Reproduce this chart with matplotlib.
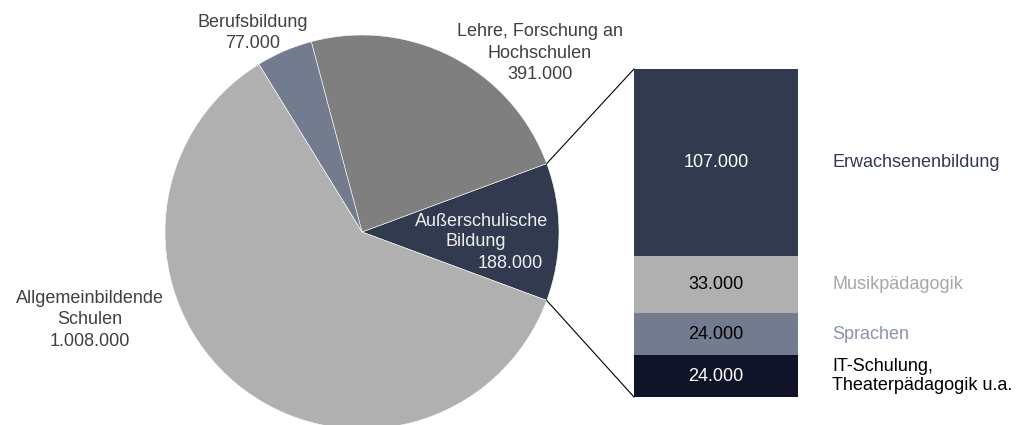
import numpy as np
import matplotlib
matplotlib.use("Agg")
import matplotlib.pyplot as plt
from matplotlib.patches import ConnectionPatch

plt.rcParams['font.family'] = ['Liberation Sans', 'DejaVu Sans']

# Daten
pie_labels = ['Außerschulische\nBildung', 'Lehre, Forschung an\nHochschulen', 'Berufsbildung', 'Allgemeinbildende\nSchulen']
pie_values = [188000, 391000, 77000, 1008000]
pie_colors = ['#323a50', '#7f7f7f', '#737b8f', '#b0b0b0']

bar_labels = ['IT-Schulung,\nTheaterpädagogik u.a.', 'Sprachen', 'Musikpädagogik', 'Erwachsenenbildung']
bar_values = [24000, 24000, 33000, 107000]
bar_colors = ['#0f1429', '#737b8f', '#b0b0b0', '#323a50']
bar_num_colors = ['white', 'black', 'black', 'white']
bar_lab_colors = ['black', '#8a93a8', '#a6a6a6', '#323a50']


def fmt(v):
    return f'{v:,}'.replace(',', '.')


W, H = 1020, 425
fig = plt.figure(figsize=(W / 100, H / 100), dpi=100)
ax = fig.add_axes([0, 0, 1, 1])

cx, cy, r = 362, H - 232, 197
start = -pie_values[0] / sum(pie_values) * 360 / 2
wedges, _ = ax.pie(pie_values, colors=pie_colors, startangle=start, center=(cx, cy),
                   radius=r, counterclock=True,
                   wedgeprops=dict(edgecolor='white', linewidth=0.4))
ax.set_xlim(0, W)
ax.set_ylim(0, H)
ax.set_aspect('equal')
ax.axis('off')

fs = 13
ls = 1.35
gray_txt = '#404040'
# Tortenbeschriftungen
ax.text(253, H - 33, 'Berufsbildung\n' + fmt(pie_values[2]), ha='center', va='center',
        fontsize=fs, color=gray_txt, linespacing=ls)
ax.text(540, H - 53, 'Lehre, Forschung an\nHochschulen\n' + fmt(pie_values[1]), ha='center',
        va='center', fontsize=fs, color=gray_txt, linespacing=ls)
ax.text(90, H - 320, 'Allgemeinbildende\nSchulen\n' + fmt(pie_values[3]), ha='center',
        va='center', fontsize=fs, color=gray_txt, linespacing=ls)
ax.text(482, H - 222, 'Außerschulische', ha='center', va='center', fontsize=fs, color='#eeeeee')
ax.text(476, H - 242, 'Bildung', ha='center', va='center', fontsize=fs, color='#eeeeee')
ax.text(510, H - 263, fmt(pie_values[0]), ha='center', va='center', fontsize=fs, color='#eeeeee')

# Balken
bx0, bx1, by0, by1 = 634, 798, 69, 397
bax = fig.add_axes([bx0 / W, (H - by1) / H, (bx1 - bx0) / W, (by1 - by0) / H])
bottoms = np.concatenate([[0], np.cumsum(bar_values)[:-1]])
bax.bar(0, bar_values, bottom=bottoms, width=1, color=bar_colors)
bax.set_xlim(-0.5, 0.5)
bax.set_ylim(0, sum(bar_values))
bax.axis('off')

for v, b, c, lab, lc in zip(bar_values, bottoms, bar_num_colors, bar_labels, bar_lab_colors):
    bax.text(0, b + v / 2, fmt(v), ha='center', va='center', fontsize=fs, color=c)
    bax.text(0.71, b + v / 2, lab, ha='left', va='center', fontsize=fs, color=lc,
             linespacing=1.2, clip_on=False)

# Verbindungslinien
w0 = wedges[0]
for ang, yb in [(w0.theta2, sum(bar_values)), (w0.theta1, 0)]:
    px = cx + r * np.cos(np.radians(ang))
    py = cy + r * np.sin(np.radians(ang))
    con = ConnectionPatch(xyA=(px, py), coordsA=ax.transData, xyB=(-0.5, yb),
                          coordsB=bax.transData, color='black', linewidth=0.8)
    fig.add_artist(con)

fig.savefig('out.png', dpi=100)
